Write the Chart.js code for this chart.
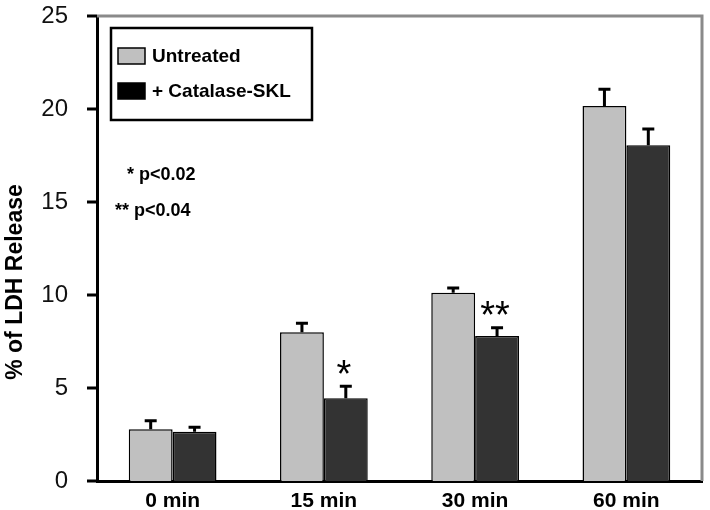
<!DOCTYPE html>
<html>
<head>
<meta charset="utf-8">
<script src="https://cdn.jsdelivr.net/npm/chart.js@4"></script>
<style>
html,body{margin:0;padding:0;background:#fff;}
#wrap{width:710px;height:510px;}
</style>
</head>
<body>
<div id="wrap"><canvas id="c" width="710" height="510"></canvas></div>
<script>
const categories = ["0 min", "15 min", "30 min", "60 min"];
const untreated = [2.78, 8.0, 10.12, 20.16];
const untreatedErr = [0.46, 0.48, 0.26, 0.9];
const catalase = [2.65, 4.45, 7.8, 18.05];
const catalaseErr = [0.24, 0.65, 0.44, 0.87];
const sigMarks = ["", "*", "**", ""];
const yTicks = [0, 5, 10, 15, 20, 25];
const legendLabels = ["Untreated", "+ Catalase-SKL"];
const notes = ["* p<0.02", "** p<0.04"];
const yTitle = "% of LDH Release";

const errs = [untreatedErr, catalaseErr];
const FONT = 'Arial, "Liberation Sans", sans-serif';

const decor = {
  id: 'decor',
  afterDatasetsDraw(chart) {
    const ctx = chart.ctx;
    const y = chart.scales.y;
    ctx.save();
    // error bars
    chart.data.datasets.forEach((ds, di) => {
      const meta = chart.getDatasetMeta(di);
      meta.data.forEach((bar, i) => {
        const top = y.getPixelForValue(ds.data[i] + errs[di][i]);
        ctx.strokeStyle = '#000';
        ctx.lineWidth = 3;
        ctx.beginPath();
        ctx.moveTo(bar.x, bar.y);
        ctx.lineTo(bar.x, top);
        ctx.moveTo(bar.x - 6, top);
        ctx.lineTo(bar.x + 6, top);
        ctx.stroke();
      });
    });
    // significance marks
    const meta1 = chart.getDatasetMeta(1);
    ctx.fillStyle = '#000';
    ctx.font = '38px ' + FONT;
    ctx.textAlign = 'center';
    ctx.textBaseline = 'middle';
    sigMarks.forEach((m, i) => {
      if (!m) return;
      const bar = meta1.data[i];
      const v = catalase[i] + catalaseErr[i];
      ctx.fillText(m, bar.x - 2, y.getPixelForValue(v) - 10);
    });
    ctx.restore();
  },
  afterDraw(chart) {
    const ctx = chart.ctx;
    const a = chart.chartArea;
    const y = chart.scales.y;
    ctx.save();
    // y tick marks
    ctx.strokeStyle = '#000';
    ctx.lineWidth = 3;
    ctx.beginPath();
    yTicks.forEach(v => {
      const py = y.getPixelForValue(v);
      ctx.moveTo(a.left - 10, py);
      ctx.lineTo(a.left, py);
    });
    ctx.stroke();
    // top and right gray frame
    ctx.strokeStyle = '#8a8a8a';
    ctx.lineWidth = 3;
    ctx.beginPath();
    ctx.moveTo(a.left, a.top);
    ctx.lineTo(a.right, a.top);
    ctx.lineTo(a.right, a.bottom);
    ctx.stroke();
    // y axis title
    ctx.save();
    ctx.translate(16, 282);
    ctx.rotate(-Math.PI / 2);
    ctx.fillStyle = '#000';
    ctx.font = 'bold 23px ' + FONT;
    ctx.textAlign = 'center';
    ctx.textBaseline = 'middle';
    ctx.fillText(yTitle, 0, 0);
    ctx.restore();
    // legend box
    ctx.strokeStyle = '#000';
    ctx.lineWidth = 2.5;
    ctx.strokeRect(111, 28, 201, 92);
    const colors = ['#c0c0c0', '#000000'];
    ctx.font = 'bold 19px ' + FONT;
    ctx.textAlign = 'left';
    ctx.textBaseline = 'middle';
    legendLabels.forEach((lab, i) => {
      const yy = 56 + i * 35;
      ctx.fillStyle = colors[i];
      ctx.fillRect(118, yy - 8, 27, 16);
      ctx.lineWidth = 1.5;
      ctx.strokeRect(118, yy - 8, 27, 16);
      ctx.fillStyle = '#000';
      ctx.fillText(lab, 152, yy + 1);
    });
    // p-value notes
    ctx.font = 'bold 18px ' + FONT;
    ctx.fillText(notes[0], 127, 175);
    ctx.fillText(notes[1], 115, 211);
    ctx.restore();
  }
};

new Chart(document.getElementById('c'), {
  type: 'bar',
  data: {
    labels: categories,
    datasets: [
      { label: legendLabels[0], data: untreated, backgroundColor: '#c0c0c0', borderColor: '#000', borderWidth: 1.5, borderSkipped: 'bottom' },
      { label: legendLabels[1], data: catalase, backgroundColor: '#333333', borderColor: '#000', borderWidth: 1.5, borderSkipped: 'bottom' }
    ]
  },
  options: {
    responsive: false,
    animation: false,
    devicePixelRatio: 1,
    layout: { padding: { top: 16, right: 8, left: 0, bottom: 0 } },
    plugins: { legend: { display: false }, tooltip: { enabled: false } },
    datasets: { bar: { barPercentage: 1.0, categoryPercentage: 0.58 } },
    scales: {
      x: {
        grid: { display: false },
        border: { display: true, color: '#000', width: 3 },
        ticks: { color: '#000', font: { family: FONT, size: 21, weight: 'bold' }, padding: 0 },
        afterFit(s) { s.height = 29; s.paddingLeft = 0; s.paddingRight = 0; }
      },
      y: {
        min: 0, max: 25,
        afterBuildTicks(s) { s.ticks = yTicks.map(v => ({ value: v })); },
        grid: { display: false },
        border: { display: true, color: '#000', width: 3 },
        ticks: { color: '#111', font: { family: FONT, size: 24 }, padding: 21 },
        afterFit(s) { s.width = 97; s.paddingTop = 0; s.paddingBottom = 0; }
      }
    }
  },
  plugins: [decor]
});
</script>
</body>
</html>
